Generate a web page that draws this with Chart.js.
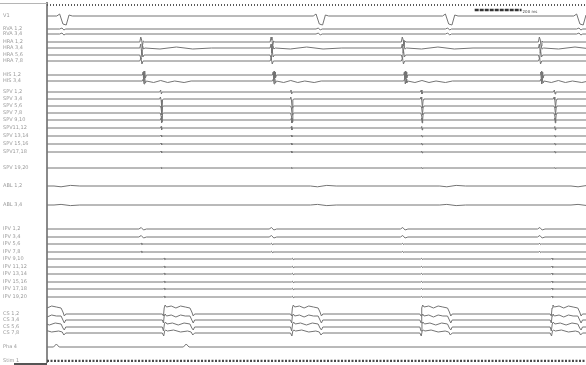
<!DOCTYPE html>
<html>
<head>
<meta charset="utf-8">
<script src="https://cdn.jsdelivr.net/npm/chart.js@4.4.1/dist/chart.umd.min.js"></script>
<style>
  html, body { margin: 0; padding: 0; background: #fff; }
  #wrap { width: 586px; height: 365px; position: relative; }
</style>
</head>
<body>
<div id="wrap"><canvas id="egm"></canvas></div>
<script>
'use strict';

// channel labels and their baseline offsets (px from top)
const channelNames = [
  'V1', 'RVA 1,2', 'RVA 3,4',
  'HRA 1,2', 'HRA 3,4', 'HRA 5,6', 'HRA 7,8',
  'HIS 1,2', 'HIS 3,4',
  'SPV 1,2', 'SPV 3,4', 'SPV 5,6', 'SPV 7,8', 'SPV 9,10',
  'SPV11,12', 'SPV 13,14', 'SPV 15,16', 'SPV17,18', 'SPV 19,20',
  'ABL 1,2', 'ABL 3,4',
  'IPV 1,2', 'IPV 3,4', 'IPV 5,6', 'IPV 7,8', 'IPV 9,10',
  'IPV 11,12', 'IPV 13,14', 'IPV 15,16', 'IPV 17,18', 'IPV 19,20',
  'CS 1,2', 'CS 3,4', 'CS 5,6', 'CS 7,8',
  'Pha 4', 'Stim 1'
];
const baselines = [
  16, 29, 34,
  42, 48, 55, 61,
  75, 81,
  92, 99, 106, 113, 120, 128, 136, 144, 152, 168,
  186, 205,
  229, 237, 244, 252, 259, 267, 274, 282, 289, 297,
  314, 320, 327, 333,
  347, 361
];

// activation times (ms)
const vBeats = [60, 1154, 1706, 2266];
const hraBeats = [402, 958, 1518, 2103];
const hisBeats = [415, 970, 1530, 2112];
const spvBeats = [487, 1043, 1599, 2167];
const csBeats = [-50, 500, 1047, 1599, 2155];
const phaBeats = [40, 594];

// deflection shapes: [ms after activation, px offset]
const v1Shape = [[-18, 0], [-6, -2], [8, 8], [22, 9], [34, -1], [48, 0]];
const rvaShape = [[-6, 0], [4, -1], [12, 1], [20, 0]];
const hraShapes = [
  [[-6, 0], [-2, -5], [2, -2], [5, 4], [9, -1], [14, 0]],
  [[-6, 0], [-2, -4], [2, 5], [6, -2], [10, 1], [16, 0], [80, 1], [150, -1], [220, 1], [300, 0]],
  [[-6, 0], [-1, 4], [3, -5], [7, 2], [12, 0]],
  [[-6, 0], [-1, -3], [3, 3], [8, 0]]
];
const hisShapes = [
  [[-8, 0], [-5, -3], [-3, 4], [-1, -4], [1, 4], [3, -3], [5, 3], [9, 0]],
  [[-8, 0], [-4, -2], [-1, 3], [2, -2], [5, 2], [9, 0], [40, 1.5], [70, -0.5], [100, 1.5], [130, 0], [170, 1.5], [200, 0]]
];
const spvShapes = [
  [[-6, 0], [-2, -2], [1, 2], [4, 0]],
  [[-6, 0], [-3, -2], [0, 1], [3, 9], [6, 1], [9, 0]],
  [[-4, 0], [0, 2], [3, 9], [6, 1], [9, 0]],
  [[-4, 0], [0, 3], [3, 9], [6, 1], [9, 0]],
  [[-3, 0], [0, -2], [2, 3], [4, 0]],
  [[-3, 0], [0, -1.5], [2, 2], [4, 0]],
  [[-3, 0], [0, -1], [2, 1], [4, 0]],
  [[-3, 0], [0, -1], [2, 1], [4, 0]],
  [[-3, 0], [0, -1], [2, 1], [4, 0]],
  [[-3, 0], [0, -0.5], [2, 0.5], [4, 0]]
];
const ablShapes = [
  [[-30, 0], [0, 0.8], [40, -0.6], [80, 0]],
  [[-30, 0], [0, -0.6], [40, 0.6], [80, 0]]
];
const ipvShapeHigh = [[-10, 0], [0, -1.5], [10, 1], [22, 0]];
const ipvShapeLow = [[-4, 0], [0, -0.8], [3, 0.6], [6, 0]];
const csShapes = [
  [[-8, 0], [-3, 2], [0, -6], [4, -9], [10, -7], [30, -8], [50, -6], [70, -8], [90, -7], [110, -6], [118, -2], [124, 2], [130, 0]],
  [[-8, 0], [-3, 3], [0, -4], [4, -6], [10, -4], [30, -5], [50, -3], [70, -5], [90, -4], [110, -4], [118, 0], [124, 3], [130, 0]],
  [[-8, 0], [-3, 4], [1, -3], [5, -5], [12, -3], [35, -4], [60, -2], [85, -4], [110, -3], [118, 1], [124, 3], [130, 0]],
  [[-8, 0], [-2, 3], [2, -2], [6, -3], [14, -2], [40, -3], [70, -1], [100, -2], [115, -1], [122, 2], [130, 0]]
];
const phaShape = [[-12, 0], [0, -3], [12, 0]];

// 200 ms calibration bar
const calStart = 1825;
const calEnd = 2025;
const calLabel = '200 ms';

function trace(base, beats, shape) {
  const pts = [{ x: -300, y: base }];
  beats.forEach(t => shape.forEach(([dt, dy]) => pts.push({ x: t + dt, y: base + dy })));
  pts.push({ x: 2600, y: base });
  return pts.sort((a, b) => a.x - b.x);
}

// which activation / shape each channel follows
const channelSpecs = [
  [vBeats, v1Shape], [vBeats, rvaShape], [vBeats, rvaShape],
  [hraBeats, hraShapes[0]], [hraBeats, hraShapes[1]], [hraBeats, hraShapes[2]], [hraBeats, hraShapes[3]],
  [hisBeats, hisShapes[0]], [hisBeats, hisShapes[1]],
  ...spvShapes.map(s => [spvBeats, s]),
  [vBeats, ablShapes[0]], [vBeats, ablShapes[1]],
  [hraBeats, ipvShapeHigh], [hraBeats, ipvShapeHigh], [hraBeats, ipvShapeLow], [hraBeats, ipvShapeLow],
  [csBeats, ipvShapeLow], [csBeats, ipvShapeLow], [csBeats, ipvShapeLow], [csBeats, ipvShapeLow],
  [csBeats, ipvShapeLow], [csBeats, ipvShapeLow],
  ...csShapes.map(s => [csBeats, s]),
  [phaBeats, phaShape]
];

const datasets = channelSpecs.map(([beats, shape], i) => ({
  data: trace(baselines[i], beats, shape),
  borderColor: '#747474',
  borderWidth: 1
}));

// top time ruler, stim ruler and calibration bar
datasets.push({
  data: [{ x: 0, y: 5 }, { x: 2300, y: 5 }],
  borderColor: '#5a5a5a', borderWidth: 2, borderDash: [1, 2]
});
datasets.push({
  data: [{ x: 0, y: 361 }, { x: 2300, y: 361 }],
  borderColor: '#4a4a4a', borderWidth: 2.5, borderDash: [2, 1.5]
});
datasets.push({
  data: [{ x: calStart, y: 10 }, { x: calEnd, y: 10 }],
  borderColor: '#333', borderWidth: 2.5, borderDash: [4, 1]
});

const framePlugin = {
  id: 'frame',
  afterDraw(chart) {
    const ctx = chart.ctx;
    const xs = chart.scales.x;
    ctx.save();
    ctx.strokeStyle = '#b5b5b5';
    ctx.lineWidth = 1;
    ctx.beginPath();
    ctx.moveTo(0, 3.5);
    ctx.lineTo(47, 3.5);
    ctx.stroke();
    ctx.strokeStyle = '#555';
    ctx.lineWidth = 2;
    ctx.beginPath();
    ctx.moveTo(14, 364);
    ctx.lineTo(47, 364);
    ctx.stroke();
    ctx.fillStyle = '#444';
    ctx.font = '4px "DejaVu Sans"';
    ctx.textBaseline = 'middle';
    ctx.fillText(calLabel, xs.getPixelForValue(calEnd) + 1, 12);
    ctx.restore();
  }
};

new Chart(document.getElementById('egm'), {
  type: 'line',
  data: { datasets },
  plugins: [framePlugin],
  options: {
    responsive: true,
    maintainAspectRatio: false,
    animation: false,
    layout: { padding: { left: 3 } },
    plugins: { legend: { display: false }, tooltip: { enabled: false } },
    elements: { point: { radius: 0 }, line: { tension: 0 } },
    scales: {
      x: { type: 'linear', min: 0, max: 2300, display: false },
      y: {
        type: 'linear', min: 3, max: 362, reverse: true,
        afterFit: s => { s.width = 44; },
        afterBuildTicks: s => {
          s.ticks = baselines.map(v => ({ value: v }));
        },
        ticks: {
          autoSkip: false, crossAlign: 'far', padding: 0,
          color: '#9a9a9a',
          font: { size: 5, family: 'DejaVu Sans' },
          callback: (v, i) => channelNames[i]
        },
        grid: { display: false, drawTicks: false },
        border: { display: true, color: '#8a8a8a', width: 2 }
      }
    }
  }
});
</script>
</body>
</html>
